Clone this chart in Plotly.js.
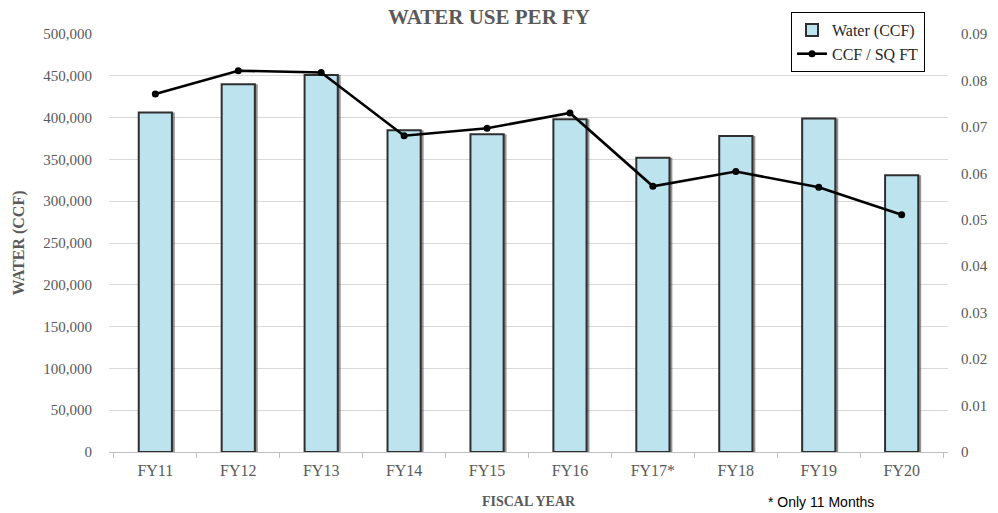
<!DOCTYPE html>
<html>
<head>
<meta charset="utf-8">
<script src="https://cdn.plot.ly/plotly-3.0.1.min.js"></script>
<style>html,body{margin:0;padding:0;background:#fff;}#chart{width:998px;height:513px;}</style>
</head>
<body>
<div id="chart"></div>
<script>
const fiscalYears = ["FY11","FY12","FY13","FY14","FY15","FY16","FY17*","FY18","FY19","FY20"];
const waterCCF = [406000, 440000, 451000, 385000, 380000, 398000, 352000, 378000, 399000, 331000];
const ccfPerSqFt = [0.0771, 0.0821, 0.0817, 0.0681, 0.0697, 0.0730, 0.0572, 0.0604, 0.0570, 0.0511];
const leftTicks = [0, 50000, 100000, 150000, 200000, 250000, 300000, 350000, 400000, 450000, 500000];
const rightTicks = [0, 0.01, 0.02, 0.03, 0.04, 0.05, 0.06, 0.07, 0.08, 0.09];

const serif = "Liberation Serif, Times New Roman, serif";
const gray = "#595959";

const traces = [
  {
    type: "bar",
    name: "shadow",
    showlegend: false,
    hoverinfo: "skip",
    x: fiscalYears,
    y: waterCCF,
    width: 0.4,
    offset: -0.2 + 0.035,
    marker: { color: "rgba(60,60,60,0.55)", line: { width: 0 } },
    yaxis: "y"
  },
  {
    type: "bar",
    name: "Water (CCF)",
    x: fiscalYears,
    y: waterCCF,
    width: 0.4,
    offset: -0.2,
    marker: { color: "#bce3ee", line: { color: "#2f2f2f", width: 2 } },
    yaxis: "y"
  },
  {
    type: "scatter",
    mode: "lines+markers",
    name: "CCF / SQ FT",
    x: fiscalYears,
    y: ccfPerSqFt,
    line: { color: "#000000", width: 2.6 },
    marker: { color: "#000000", size: 7 },
    yaxis: "y2"
  }
];

const layout = {
  width: 998,
  height: 513,
  margin: { l: 109, r: 50, t: 34, b: 61 },
  barmode: "overlay",
  paper_bgcolor: "#ffffff",
  plot_bgcolor: "#ffffff",
  font: { family: serif, color: gray, size: 15 },
  title: {
    text: "WATER USE PER FY",
    font: { family: serif, size: 21, color: gray, weight: "bold" },
    x: 0.49, xref: "container", xanchor: "center",
    y: 1 - 17 / 513, yref: "container", yanchor: "middle"
  },
  xaxis: {
    type: "category",
    tickfont: { family: serif, size: 16, color: gray },
    showgrid: false,
    showline: true, linecolor: "#bfbfbf", linewidth: 1,
    ticks: "outside", tickson: "boundaries", ticklen: 5, tickcolor: "#bfbfbf",
    ticklabelstandoff: 4,
    title: { text: "FISCAL YEAR", font: { family: serif, size: 14, color: gray, weight: "bold" }, standoff: 17 },
    automargin: false
  },
  yaxis: {
    range: [0, 500000],
    tickvals: leftTicks,
    tickformat: ",",
    tickfont: { family: serif, size: 15, color: gray },
    showgrid: true, gridcolor: "#d9d9d9", gridwidth: 1,
    zeroline: false, showline: false,
    ticks: "", ticklabelstandoff: 16,
    title: { text: "WATER (CCF)", font: { family: serif, size: 16, color: gray, weight: "bold" }, standoff: 14 },
    automargin: false
  },
  yaxis2: {
    overlaying: "y",
    side: "right",
    range: [0, 0.09],
    tickvals: rightTicks,
    tickfont: { family: serif, size: 15, color: gray },
    showgrid: false, zeroline: false, showline: false,
    ticks: "", ticklabelstandoff: 12,
    automargin: false
  },
  showlegend: true,
  legend: {
    x: (791 - 109) / 839, xanchor: "left",
    y: 1 + (34 - 12) / 418, yanchor: "top",
    bgcolor: "#ffffff",
    bordercolor: "#000000", borderwidth: 1,
    font: { family: serif, size: 16, color: "#262626" },
    traceorder: "normal"
  },
  annotations: [
    {
      text: "* Only 11 Months",
      xref: "paper", yref: "paper",
      x: (821 - 109) / 839, y: (452 - 502) / 418,
      xanchor: "center", yanchor: "middle",
      showarrow: false,
      font: { family: "Liberation Sans, Arial, sans-serif", size: 14, color: "#000000" }
    }
  ]
};

Plotly.newPlot("chart", traces, layout, { displayModeBar: false, staticPlot: true });
</script>
</body>
</html>
